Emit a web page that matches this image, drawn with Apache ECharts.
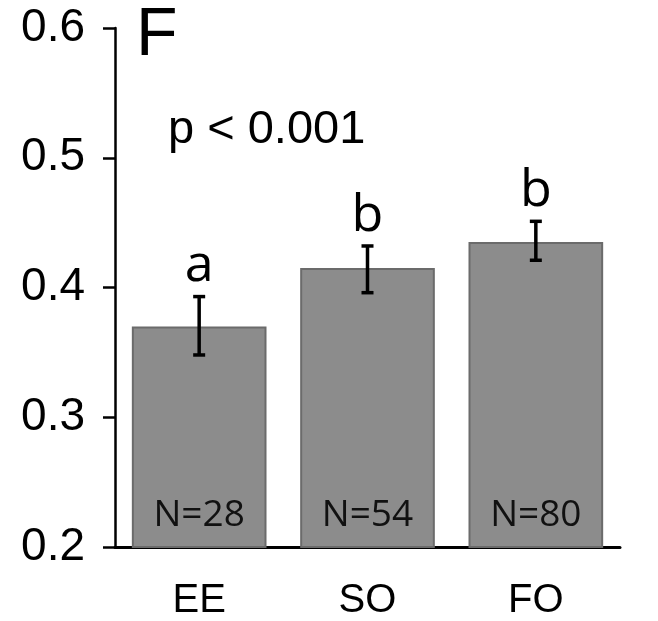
<!DOCTYPE html>
<html>
<head>
<meta charset="utf-8">
<script src="https://cdn.jsdelivr.net/npm/echarts@6/dist/echarts.min.js"></script>
<style>
html,body{margin:0;padding:0;background:#fff;}
#chart{width:658px;height:621px;}
</style>
</head>
<body>
<div id="chart"></div>
<script>
const categories = ['EE', 'SO', 'FO'];
const means = [0.370, 0.415, 0.435];
const errLow = [0.348, 0.396, 0.421];
const errHigh = [0.393, 0.432, 0.451];
const sampleLabels = ['N=28', 'N=54', 'N=80'];
const groupLetters = ['a', 'b', 'b'];
const yTicks = { min: 0.2, max: 0.6, interval: 0.1 };
const panelLetter = 'F';
const pText = 'p < 0.001';

const chart = echarts.init(document.getElementById('chart'));

const errData = categories.map((c, i) => [i, errLow[i], errHigh[i]]);

chart.setOption({
  animation: false,
  grid: { left: 115, right: 38, top: 28, bottom: 74 },
  xAxis: {
    type: 'category',
    data: categories,
    axisLine: { lineStyle: { color: '#000', width: 3 } },
    axisTick: { show: false },
    axisLabel: { color: '#000', fontFamily: 'Liberation Sans', fontSize: 40, margin: 34 }
  },
  yAxis: {
    type: 'value',
    min: yTicks.min, max: yTicks.max, interval: yTicks.interval,
    axisLine: { show: true, lineStyle: { color: '#000', width: 2.5 } },
    axisTick: { show: true, length: 12, lineStyle: { color: '#000', width: 2.5 } },
    splitLine: { show: false },
    axisLabel: { color: '#000', fontFamily: 'Liberation Sans', fontSize: 46, margin: 30,
      formatter: v => v.toFixed(1) }
  },
  series: [
    {
      type: 'bar',
      data: means,
      barWidth: '80%',
      itemStyle: { color: '#8c8c8c', borderColor: '#6b6b6b', borderWidth: 2 },
      label: {
        show: true, position: 'insideBottom', distance: 14,
        formatter: p => sampleLabels[p.dataIndex],
        color: '#111', fontFamily: 'Open Sans', fontSize: 37
      },
      z: 2
    },
    {
      type: 'custom',
      data: errData,
      z: 5,
      renderItem: function (params, api) {
        const x = api.value(0);
        const lo = api.coord([x, api.value(1)]);
        const hi = api.coord([x, api.value(2)]);
        const cw = 6;
        const st = { stroke: '#000', lineWidth: 3.5 };
        return {
          type: 'group',
          children: [
            { type: 'line', shape: { x1: lo[0], y1: lo[1], x2: hi[0], y2: hi[1] }, style: st },
            { type: 'line', shape: { x1: hi[0] - cw, y1: hi[1], x2: hi[0] + cw, y2: hi[1] }, style: st },
            { type: 'line', shape: { x1: lo[0] - cw, y1: lo[1], x2: lo[0] + cw, y2: lo[1] }, style: st },
            { type: 'text', style: { text: groupLetters[params.dataIndex], x: hi[0], y: hi[1] - 4,
                textAlign: 'center', textVerticalAlign: 'bottom',
                font: '52px "Open Sans"', fill: '#000' } }
          ]
        };
      }
    }
  ],
  graphic: [
    { type: 'text', left: 136, top: 2, style: { text: panelLetter, font: '68px "Liberation Sans"', fill: '#000' } },
    { type: 'text', left: 168, top: 107, style: { text: pText, font: '47px "Liberation Sans"', fill: '#000' } }
  ]
});
</script>
</body>
</html>
